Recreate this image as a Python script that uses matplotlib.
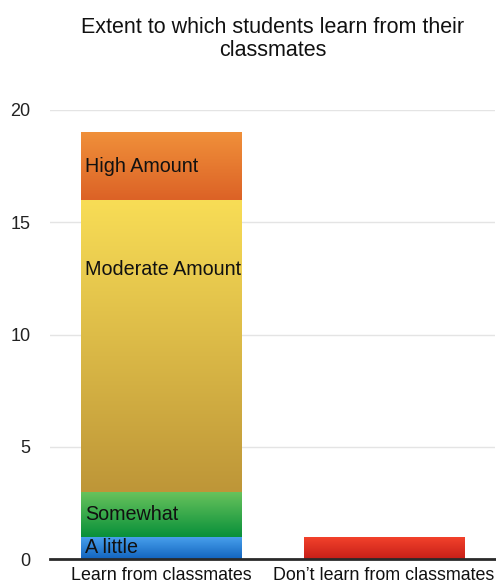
import matplotlib
matplotlib.use("Agg")
import matplotlib.pyplot as plt
import numpy as np
from matplotlib.colors import LinearSegmentedColormap

plt.rcParams['font.family'] = ['Liberation Sans', 'DejaVu Sans']

title = "Extent to which students learn from their\nclassmates"
categories = ["Learn from classmates", "Don\u2019t learn from classmates"]
segment_names = ["A little", "Somewhat", "Moderate Amount", "High Amount"]
segment_values = [1, 2, 13, 3]
dont_learn_value = 1
yticks = [0, 5, 10, 15, 20]

# gradient colours (top, bottom)
seg_colors = [("#4AA2EE", "#1264BE"),
              ("#68C25C", "#08903A"),
              ("#F8DD56", "#BE9638"),
              ("#F0903A", "#DC6226")]
red_colors = ("#F5432C", "#C61F18")
label_frac = [0.5, 0.5, 0.76, 0.5]

fig = plt.figure(figsize=(4.96, 5.85), dpi=100)
ax = fig.add_axes([50/496, 1-559/585, 445/496, 449/585])

width = 0.72
x = np.arange(len(categories))


def grad_fill(patch, top, bottom):
    cmap = LinearSegmentedColormap.from_list("g", [bottom, top])
    bx, by = patch.get_x(), patch.get_y()
    w, h = patch.get_width(), patch.get_height()
    grad = np.linspace(0, 1, 256).reshape(-1, 1)
    im = ax.imshow(grad, cmap=cmap, aspect='auto', origin='lower',
                   extent=(bx, bx + w, by, by + h), zorder=2,
                   interpolation='bicubic')
    im.set_clip_path(patch)
    patch.set_facecolor('none')


bottom = 0
for name, val, (top_c, bot_c), frac in zip(segment_names, segment_values, seg_colors, label_frac):
    bars = ax.bar(x[0], val, width, bottom=bottom, color=top_c, linewidth=0, zorder=2)
    p = bars[0]
    grad_fill(p, top_c, bot_c)
    ax.text(p.get_x() + 0.017, bottom + val * frac, name, ha='left', va='center',
            fontsize=14.2, color='#111111', zorder=4)
    bottom += val

bars = ax.bar(x[1], dont_learn_value, width, color=red_colors[0], linewidth=0, zorder=2)
grad_fill(bars[0], *red_colors)

ax.set_xlim(-0.5, 1.5)
ax.set_ylim(0, 20)
ax.set_yticks(yticks)
ax.set_yticklabels([str(t) for t in yticks], fontsize=13, color='#222222')
ax.set_xticks(x)
ax.set_xticklabels(categories, fontsize=12.9, color='#111111')
ax.tick_params(axis='both', length=0)
ax.tick_params(axis='y', pad=14)
ax.tick_params(axis='x', pad=6)
for s in ax.spines.values():
    s.set_visible(False)
ax.grid(axis='y', color='#E4E4E4', linewidth=1, zorder=0)
ax.set_axisbelow(True)
ax.axhline(0, color='#2A2A2A', linewidth=2, zorder=5, clip_on=False)
ax.set_title(title, fontsize=15.5, color='#111111', pad=39, linespacing=1.1)

fig.savefig("out.png", dpi=100, facecolor='white')
